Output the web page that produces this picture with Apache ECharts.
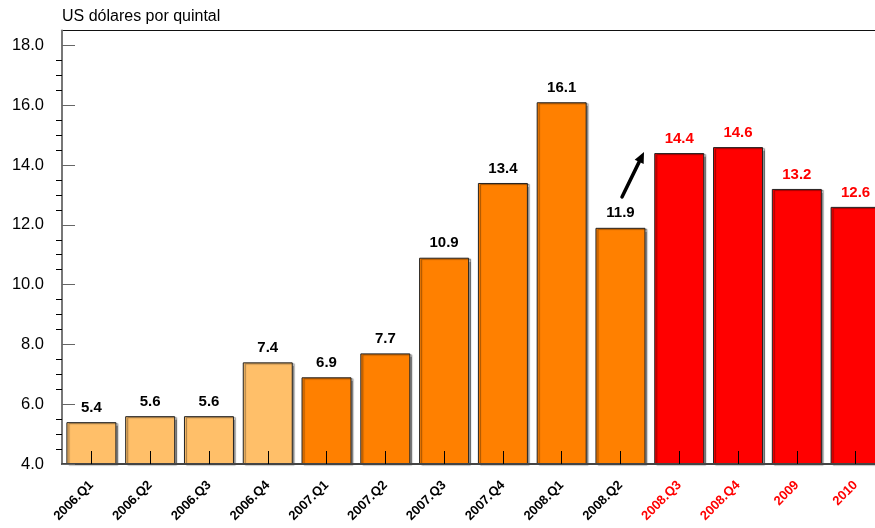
<!DOCTYPE html>
<html>
<head>
<meta charset="utf-8">
<script src="https://cdn.jsdelivr.net/npm/echarts@6/dist/echarts.min.js"></script>
<style>
  html, body { margin: 0; padding: 0; background: #fff; }
  #chart { width: 875px; height: 528px; }
</style>
</head>
<body>
<div id="chart"></div>
<script>
// Precio por quintal, trimestral 2006-2008 y proyección anual 2009-2010
const categories = ['2006.Q1', '2006.Q2', '2006.Q3', '2006.Q4',
  '2007.Q1', '2007.Q2', '2007.Q3', '2007.Q4', '2008.Q1', '2008.Q2',
  '2008.Q3', '2008.Q4', '2009', '2010'];
const prices = [5.4, 5.6, 5.6, 7.4, 6.9, 7.7, 10.9, 13.4, 16.1, 11.9, 14.4, 14.6, 13.2, 12.6];
const yTicks = [4, 6, 8, 10, 12, 14, 16, 18];
const yMin = 4, yMax = 18.5;

// Index boundaries: 2006 quarters, observed 2007-2008.Q2, projections after
const firstObservedIdx = 4;
const firstProjectedIdx = 10;

const COLOR_2006 = '#FFBF69';
const COLOR_OBS = '#FF8000';
const COLOR_PROJ = '#FF0000';
const FONT = 'Liberation Sans, Arial, sans-serif';

function barColor(i) {
  if (i < firstObservedIdx) return COLOR_2006;
  if (i < firstProjectedIdx) return COLOR_OBS;
  return COLOR_PROJ;
}
function textColor(i) { return i >= firstProjectedIdx ? COLOR_PROJ : '#000'; }

// Minor ticks: three between each pair of labelled ticks
const minorTicks = [];
for (let k = 0; k < yTicks.length - 1; k++) {
  const step = (yTicks[k + 1] - yTicks[k]) / 4;
  for (let j = 1; j < 4; j++) minorTicks.push(yTicks[k] + j * step);
}

const chart = echarts.init(document.getElementById('chart'), null, { renderer: 'canvas' });

// Arrow pointing from the 2008.Q2 bar toward the projection
const tail = [622, 197], tip = [644, 152];
const dx = tip[0] - tail[0], dy = tip[1] - tail[1];
const len = Math.hypot(dx, dy), ux = dx / len, uy = dy / len;
const headLen = 11, headHalf = 5;
const base = [tip[0] - ux * headLen, tip[1] - uy * headLen];

chart.setOption({
  animation: false,
  backgroundColor: '#fff',
  title: {
    text: 'US dólares por quintal',
    left: 57, top: 4,
    textStyle: { fontFamily: FONT, fontSize: 16, fontWeight: 'normal', color: '#000' }
  },
  // plot runs past the right edge so the last bar is cut by the frame;
  // the grid border supplies the top rule
  grid: { left: 62, top: 30.5, width: 823, height: 433.5,
    containLabel: false, outerBoundsMode: 'none',
    show: true, borderColor: '#111', borderWidth: 1, backgroundColor: 'transparent' },
  xAxis: {
    type: 'category',
    data: categories,
    position: 'bottom',
    z: 10,
    axisLine: { show: true, lineStyle: { color: '#444', width: 2 } },
    axisTick: { show: true, inside: true, length: 13, alignWithLabel: true,
      lineStyle: { color: '#000', width: 1 } },
    axisLabel: {
      interval: 0, rotate: 45, margin: 19,
      fontFamily: FONT, fontSize: 13, fontWeight: 'bold',
      color: function (v) { return textColor(categories.indexOf(v)); }
    },
    splitLine: { show: false }
  },
  yAxis: [{
    type: 'value',
    min: yMin, max: yMax,
    position: 'left',
    z: 10,
    axisLine: { show: true, lineStyle: { color: '#777', width: 2 } },
    axisTick: { show: true, inside: true, length: 13, customValues: yTicks,
      lineStyle: { color: '#666', width: 1 } },
    axisLabel: {
      customValues: yTicks, margin: 18,
      fontFamily: FONT, fontSize: 16.5, color: '#000',
      formatter: function (v) { return v.toFixed(1); }
    },
    splitLine: { show: false }
  }, {
    type: 'value',
    min: yMin, max: yMax,
    position: 'left',
    z: 10,
    axisLine: { show: false },
    axisTick: { show: true, inside: false, length: 6, customValues: minorTicks,
      lineStyle: { color: '#000', width: 1 } },
    axisLabel: { show: false },
    splitLine: { show: false }
  }],
  series: [{
    type: 'bar',
    xAxisIndex: 0,
    yAxisIndex: 0,
    barWidth: 50,
    data: prices.map(function (v, i) {
      return {
        value: v,
        itemStyle: { color: barColor(i) },
        label: { color: textColor(i) }
      };
    }),
    itemStyle: {
      borderColor: '#222', borderWidth: 1,
      shadowColor: 'rgba(0,0,0,0.4)', shadowBlur: 1, shadowOffsetX: 2, shadowOffsetY: 1
    },
    label: {
      show: true, position: 'top', distance: 7,
      fontFamily: FONT, fontSize: 15, fontWeight: 'bold',
      formatter: function (p) { return p.value.toFixed(1); }
    }
  }],
  graphic: [{
    type: 'group',
    z: 100,
    children: [{
      type: 'line',
      shape: { x1: tail[0], y1: tail[1], x2: base[0], y2: base[1] },
      style: { stroke: '#000', lineWidth: 3.5, lineCap: 'round' }
    }, {
      type: 'polygon',
      shape: { points: [
        tip,
        [base[0] + uy * headHalf, base[1] - ux * headHalf],
        [base[0] - uy * headHalf, base[1] + ux * headHalf]
      ] },
      style: { fill: '#000' }
    }]
  }]
});
</script>
</body>
</html>
